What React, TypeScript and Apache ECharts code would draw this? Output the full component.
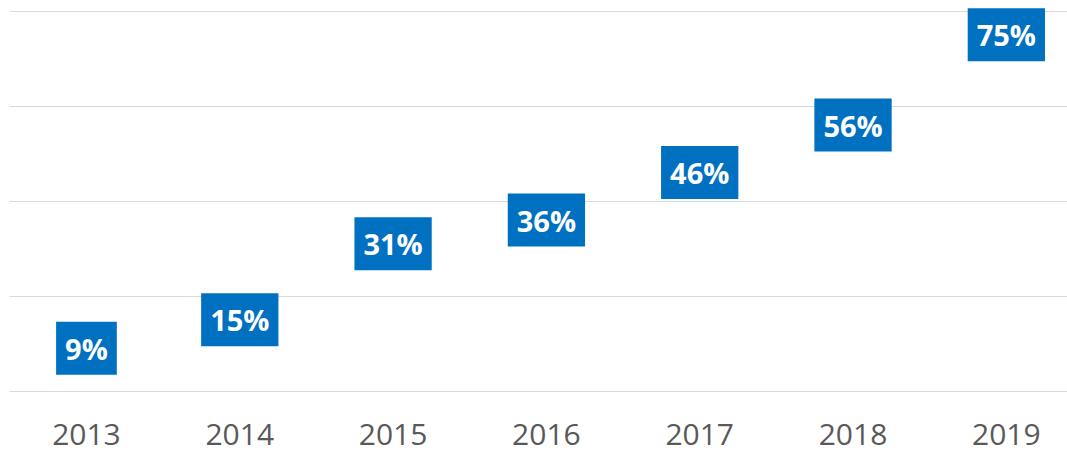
import React, { useEffect, useRef } from "react";
import * as echarts from "echarts";

const years = ["2013", "2014", "2015", "2016", "2017", "2018", "2019"];
const values = [9, 15, 31, 36, 46, 56, 75];
const yMin = 0;
const yMax = 80;
const yInterval = 20;

export default function App() {
  const ref = useRef<HTMLDivElement>(null);
  useEffect(() => {
    document.body.style.margin = "0";
    const chart = echarts.init(ref.current!, null, { renderer: "svg" });
    chart.setOption({
      animation: false,
      grid: { left: 9.8, top: 11, right: 0, height: 380, containLabel: false },
      xAxis: {
        type: "category",
        data: years,
        boundaryGap: true,
        axisLine: { show: false },
        axisTick: { show: false },
        axisLabel: {
          color: "#595959",
          fontSize: 30,
          lineHeight: 30,
          fontFamily: "Open Sans",
          margin: 27,
        },
      },
      yAxis: {
        type: "value",
        min: yMin,
        max: yMax,
        interval: yInterval,
        axisLine: { show: false },
        axisTick: { show: false },
        axisLabel: { show: false },
        splitLine: { lineStyle: { color: "#d9d9d9", width: 1 } },
      },
      series: [
        {
          type: "scatter",
          data: values,
          symbolSize: 1,
          itemStyle: { color: "rgba(0,0,0,0)", opacity: 1 },
          label: {
            show: true,
            position: "inside",
            formatter: (p: any) => `${p.value}%`,
            color: "#ffffff",
            fontWeight: "bold",
            fontSize: 29,
            fontFamily: "Open Sans",
            lineHeight: 31,
            backgroundColor: "#0070C0",
            padding: [11, 9, 11, 9],
          },
        },
      ],
    });
    return () => chart.dispose();
  }, []);
  return (
    <div style={{ width: 1067, height: 453, overflow: "hidden", position: "relative" }}>
      <div ref={ref} style={{ width: 1083, height: 453, position: "absolute", left: 0, top: 0 }} />
    </div>
  );
}
